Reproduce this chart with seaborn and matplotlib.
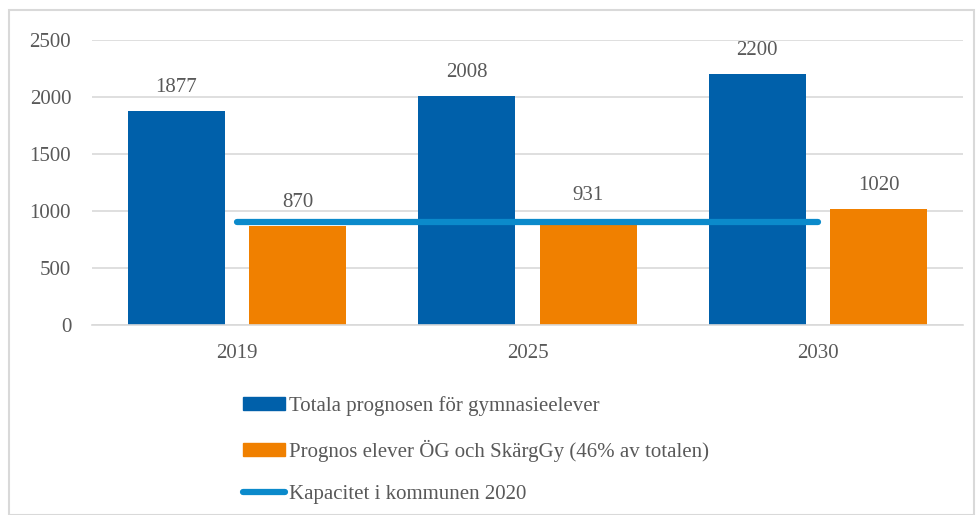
import matplotlib
matplotlib.use("Agg")
import matplotlib.pyplot as plt
import matplotlib.patches as mpatches
from matplotlib.lines import Line2D
import pandas as pd
import seaborn as sns

# data
years = ["2019", "2025", "2030"]
totala = [1877, 2008, 2200]
prognos_og = [870, 931, 1020]
kapacitet = [900, 900, 900]

serie_totala = "Totala prognosen för gymnasieelever"
serie_og = "Prognos elever ÖG och SkärgGy (46% av totalen)"
serie_kap = "Kapacitet i kommunen 2020"

blue = "#0060aa"
orange = "#f08000"
line_blue = "#0b8acb"
text_col = "#595959"

df = pd.DataFrame({
    "year": years * 2,
    "value": totala + prognos_og,
    "serie": [serie_totala] * 3 + [serie_og] * 3,
})

sns.set_theme(style="white")
plt.rcParams["font.family"] = ["Liberation Serif", "DejaVu Serif"]

fig = plt.figure(figsize=(9.79, 5.15), dpi=100)
ax = fig.add_axes([92 / 979, 1 - 325 / 515, (963 - 92) / 979, (325 - 40) / 515])

sns.barplot(data=df, x="year", y="value", hue="serie", order=years,
            palette=[blue, orange], width=0.836, gap=0.2, ax=ax,
            legend=False, saturation=1, edgecolor="none")

for cont in ax.containers:
    ax.bar_label(cont, fmt="%d", padding=10, fontsize=15, color=text_col)

sns.lineplot(x=[0, 1, 2], y=kapacitet, color=line_blue, linewidth=4.5,
             ax=ax, solid_capstyle="round")

ax.set_ylim(0, 2500)
ax.set_xlim(-0.5, 2.5)
ax.set_yticks(range(0, 2501, 500))
ax.yaxis.grid(True, color="#d9d9d9", linewidth=1.2)
ax.set_axisbelow(True)
for s in ["left", "right", "top"]:
    ax.spines[s].set_visible(False)
ax.spines["bottom"].set_color("#d9d9d9")
ax.spines["bottom"].set_linewidth(1.2)
ax.tick_params(axis="both", length=0, labelsize=15, colors=text_col)
ax.tick_params(axis="y", pad=15)
ax.tick_params(axis="x", pad=14)
ax.set_xlabel("")
ax.set_ylabel("")

handles = [
    mpatches.Patch(color=blue),
    mpatches.Patch(color=orange),
    Line2D([0], [0], color=line_blue, linewidth=4.5, solid_capstyle="round"),
]
fig.legend(handles, [serie_totala, serie_og, serie_kap],
           loc="upper left", bbox_to_anchor=(243 / 979, 1 - 396 / 515),
           frameon=False, fontsize=15, labelcolor=text_col,
           handlelength=2.0, handleheight=0.6, handletextpad=0.2,
           labelspacing=1.13, borderpad=0, borderaxespad=0)

# light frame around the chart area
fig.patches.append(mpatches.Rectangle((9 / 979, 0), 1 - 14 / 979, 1 - 10 / 515,
                                      transform=fig.transFigure, fill=False,
                                      edgecolor="#d9d9d9", linewidth=1.5))

fig.savefig("out.png", dpi=100)
